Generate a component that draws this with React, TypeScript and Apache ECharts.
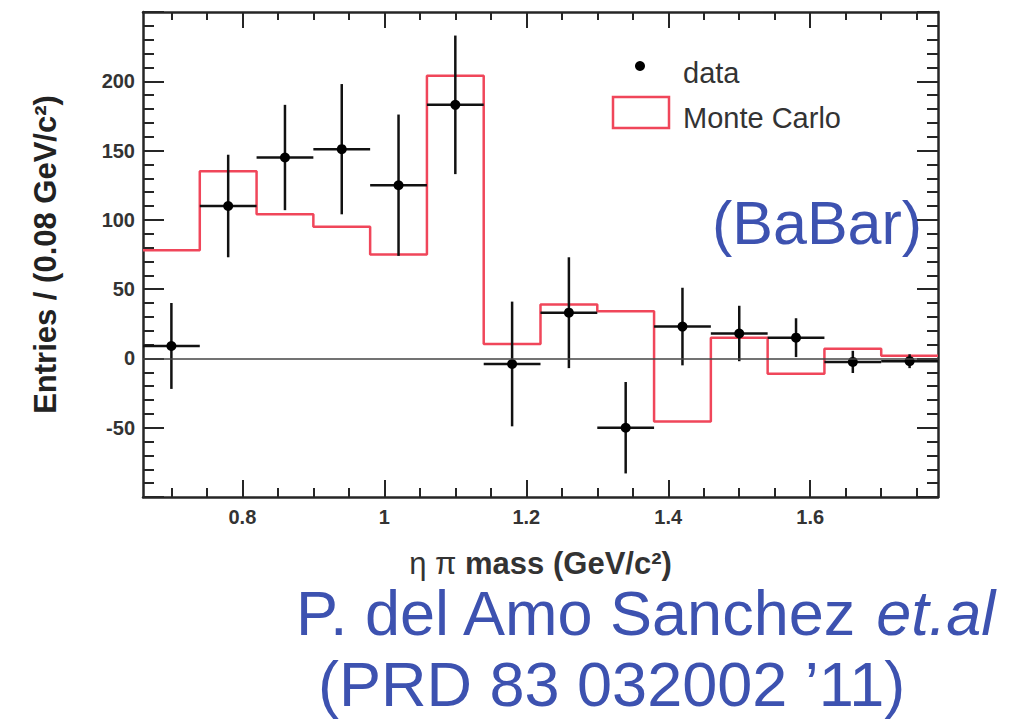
import React, { useEffect, useRef } from "react";
import * as echarts from "echarts";

// ---- data ----
const binCenters = [0.70, 0.78, 0.86, 0.94, 1.02, 1.10, 1.18, 1.26, 1.34, 1.42, 1.50, 1.58, 1.66, 1.74];
const binWidth = 0.08;
const dataValues = [9, 110, 145, 151, 125, 183, -4, 33, -50, 23, 18, 15, -2.5, -2];
const dataErrors = [31, 37, 38, 47, 51, 50, 45, 40, 33, 28, 20, 14, 8, 5];
const mcValues = [78, 135, 104, 95, 75, 204, 10.5, 39, 34, -45.5, 15, -11, 7, 2];
const xMajorTicks = [0.8, 1.0, 1.2, 1.4, 1.6];
const xMinorTicks = [0.7, 0.75, 0.85, 0.9, 0.95, 1.05, 1.1, 1.15, 1.25, 1.3, 1.35, 1.45, 1.5, 1.55, 1.65, 1.7, 1.75];
const xRange = [0.66, 1.78];
const yRange = [-100, 250];
const yStep = 50;

const FONT = "'Liberation Sans', Arial, Helvetica, sans-serif";
const BLUE = "#3d52b0";
const RED = "#f0465a";
const FRAME = "#262626";

export default function App() {
  const ref = useRef<HTMLDivElement>(null);

  useEffect(() => {
    if (!ref.current) return;
    const chart = echarts.init(ref.current, undefined, { renderer: "svg" });

    const mcData: number[][] = binCenters.map((c, i) => [c - binWidth / 2, mcValues[i]]);
    mcData.push([binCenters[binCenters.length - 1] + binWidth / 2, mcValues[mcValues.length - 1]]);
    const pts = binCenters.map((c, i) => [c, dataValues[i], dataErrors[i]]);

    const baseX = {
      type: "value",
      min: xRange[0],
      max: xRange[1],
      splitLine: { show: false },
    };
    const tickStyle = { color: FRAME, width: 2 };

    const option: any = {
      animation: false,
      backgroundColor: "#fff",
      grid: { left: 143, top: 12, right: 81, bottom: 225, containLabel: false },
      xAxis: [
        {
          ...baseX,
          position: "bottom",
          axisLine: { show: true, onZero: false, lineStyle: { color: FRAME, width: 2.5 } },
          axisTick: { show: true, inside: true, length: 17, customValues: xMajorTicks, lineStyle: tickStyle },
          axisLabel: {
            show: true,
            customValues: xMajorTicks,
            fontFamily: FONT,
            fontWeight: "bold",
            fontSize: 20,
            color: "#333",
            margin: 10,
            formatter: (v: number) => String(Math.round(v * 10) / 10),
          },
          name: "{g|η π} mass (GeV/c²)",
          nameLocation: "middle",
          nameGap: 51,
          nameTextStyle: {
            fontFamily: FONT,
            fontWeight: "bold",
            fontSize: 31,
            color: "#333",
            rich: { g: { fontFamily: FONT, fontWeight: "normal", fontSize: 31, color: "#333" } },
          },
        },
        {
          ...baseX,
          position: "bottom",
          axisLine: { show: false, onZero: false },
          axisTick: { show: true, inside: true, length: 9, customValues: xMinorTicks, lineStyle: tickStyle },
          axisLabel: { show: false },
        },
        {
          ...baseX,
          position: "top",
          axisLine: { show: true, onZero: false, lineStyle: { color: FRAME, width: 2.5 } },
          axisTick: { show: true, inside: true, length: 16, customValues: xMajorTicks, lineStyle: tickStyle },
          axisLabel: { show: false },
        },
        {
          ...baseX,
          position: "top",
          axisLine: { show: false, onZero: false },
          axisTick: { show: true, inside: true, length: 8, customValues: xMinorTicks, lineStyle: tickStyle },
          axisLabel: { show: false },
        },
      ],
      yAxis: [
        {
          type: "value",
          position: "left",
          min: yRange[0],
          max: yRange[1],
          interval: yStep,
          splitLine: { show: false },
          axisLine: { show: true, onZero: false, lineStyle: { color: FRAME, width: 2.5 } },
          axisTick: { show: true, inside: true, length: 21, lineStyle: tickStyle },
          minorTick: { show: true, splitNumber: 5, length: 11, lineStyle: tickStyle },
          axisLabel: {
            show: true,
            showMinLabel: false,
            showMaxLabel: false,
            fontFamily: FONT,
            fontWeight: "bold",
            fontSize: 20,
            color: "#333",
            margin: 8,
          },
          name: "Entries / (0.08 GeV/c²)",
          nameLocation: "middle",
          nameGap: 82,
          nameTextStyle: { fontFamily: FONT, fontWeight: "bold", fontSize: 31, color: "#222" },
        },
        {
          type: "value",
          position: "right",
          min: yRange[0],
          max: yRange[1],
          interval: yStep,
          splitLine: { show: false },
          axisLine: { show: true, onZero: false, lineStyle: { color: FRAME, width: 2.5 } },
          axisTick: { show: true, inside: true, length: 21, lineStyle: tickStyle },
          minorTick: { show: true, splitNumber: 5, length: 11, lineStyle: tickStyle },
          axisLabel: { show: false },
        },
      ],
      series: [
        {
          type: "line",
          xAxisIndex: 0,
          yAxisIndex: 0,
          step: "end",
          data: mcData,
          symbol: "none",
          lineStyle: { color: RED, width: 2.5 },
          z: 2,
          markLine: {
            silent: true,
            symbol: "none",
            label: { show: false },
            lineStyle: { color: "#444", width: 1.5, type: "solid" },
            data: [{ yAxis: 0 }],
          },
        },
        {
          type: "custom",
          xAxisIndex: 0,
          yAxisIndex: 0,
          z: 3,
          data: pts,
          renderItem: (params: any, api: any) => {
            const x = api.value(0);
            const y = api.value(1);
            const e = api.value(2);
            const c = api.coord([x, y]);
            const l = api.coord([x - binWidth / 2, y]);
            const r = api.coord([x + binWidth / 2, y]);
            const t = api.coord([x, y + e]);
            const b = api.coord([x, y - e]);
            const st = { stroke: "#111", lineWidth: 2.5 };
            return {
              type: "group",
              children: [
                { type: "line", shape: { x1: l[0], y1: l[1], x2: r[0], y2: r[1] }, style: st },
                { type: "line", shape: { x1: t[0], y1: t[1], x2: b[0], y2: b[1] }, style: st },
                { type: "circle", shape: { cx: c[0], cy: c[1], r: 5 }, style: { fill: "#000" } },
              ],
            };
          },
        },
      ],
      graphic: [
        { type: "circle", shape: { cx: 640, cy: 66, r: 5 }, style: { fill: "#000" } },
        {
          type: "text",
          x: 683,
          y: 73,
          style: { text: "data", fontFamily: FONT, fontSize: 29, fill: "#333", textVerticalAlign: "middle" },
        },
        {
          type: "rect",
          shape: { x: 613, y: 97, width: 56, height: 31 },
          style: { fill: "none", stroke: RED, lineWidth: 2.5 },
        },
        {
          type: "text",
          x: 683,
          y: 118,
          style: { text: "Monte Carlo", fontFamily: FONT, fontSize: 29, fill: "#333", textVerticalAlign: "middle" },
        },
        {
          type: "text",
          x: 712,
          y: 223,
          style: { text: "(BaBar)", fontFamily: FONT, fontSize: 61, fill: BLUE, textVerticalAlign: "middle" },
        },
        {
          type: "text",
          x: 296,
          y: 613,
          style: {
            text: "P. del Amo Sanchez {i|et.al}",
            fontFamily: FONT,
            fontSize: 63,
            fill: BLUE,
            textVerticalAlign: "middle",
            rich: { i: { fontFamily: FONT, fontSize: 63, fontStyle: "italic", fill: BLUE } },
          },
        },
        {
          type: "text",
          x: 318,
          y: 684,
          style: { text: "(PRD 83 032002 \u201911)", fontFamily: FONT, fontSize: 63, fill: BLUE, textVerticalAlign: "middle" },
        },
      ],
    };

    chart.setOption(option);
    return () => chart.dispose();
  }, []);

  return (
    <div
      ref={ref}
      style={{ position: "absolute", left: 0, top: 0, width: 1019, height: 722, background: "#fff" }}
    />
  );
}
